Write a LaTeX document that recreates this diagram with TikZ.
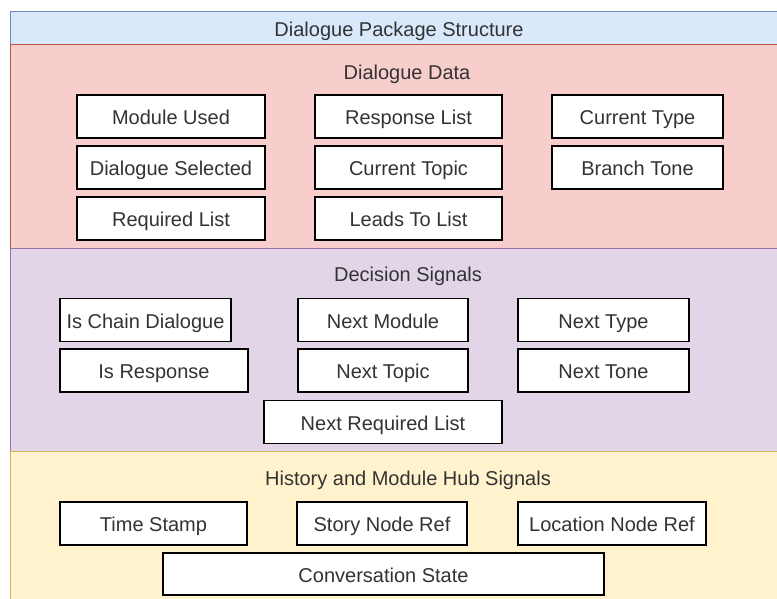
\documentclass[tikz,border=0pt]{standalone}
\usepackage{fontspec}
\setmainfont{Liberation Sans}
\definecolor{txtgray}{HTML}{333333}
\definecolor{headfill}{HTML}{DAE8FC}
\definecolor{headline}{HTML}{6C8EBF}
\definecolor{datafill}{HTML}{F8CECC}
\definecolor{dataline}{HTML}{B85450}
\definecolor{decfill}{HTML}{E1D5E7}
\definecolor{decline}{HTML}{9673A6}
\definecolor{histfill}{HTML}{FFF2CC}
\definecolor{histline}{HTML}{D6B656}

\begin{document}
\begin{tikzpicture}[x=1pt,y=-1pt,
  every node/.style={font=\fontsize{20}{24}\selectfont, text=txtgray, text height=18pt, text depth=1.6pt},
  field/.style={draw=black, line width=1.2pt, fill=white, minimum height=43pt, inner sep=0pt}]

\useasboundingbox (0,0) rectangle (777,599);

% Sections
\draw[headline, fill=headfill] (10,11) rectangle (778,44);
\draw[dataline, fill=datafill] (10,44) rectangle (778,248);
\draw[decline, fill=decfill] (10,248) rectangle (778,451);
\draw[histline, fill=histfill] (10,451) rectangle (778,601);

% Titles
\node (title) at (399,28) {Dialogue Package Structure};
\node (datatitle) at (407,71) {Dialogue Data};
\node (dectitle) at (408,273) {Decision Signals};
\node (histtitle) at (408,477) {History and Module Hub Signals};

% Dialogue data
\node[field, minimum width=188pt] (module) at (171,116.5) {Module Used};
\node[field, minimum width=187pt] (resplist) at (408.5,116.5) {Response List};
\node[field, minimum width=171pt] (curtype) at (637.5,116.5) {Current Type};
\node[field, minimum width=188pt] (selected) at (171,167.5) {Dialogue Selected};
\node[field, minimum width=187pt] (curtopic) at (408.5,167.5) {Current Topic};
\node[field, minimum width=171pt] (tone) at (637.5,167.5) {Branch Tone};
\node[field, minimum width=188pt] (reqlist) at (171,218.5) {Required List};
\node[field, minimum width=187pt] (leads) at (408.5,218.5) {Leads To List};

% Decision signals
\node[field, minimum width=171pt] (ischain) at (145.5,320) {Is Chain Dialogue};
\node[field, minimum width=170pt] (nextmod) at (383,320) {Next Module};
\node[field, minimum width=171pt] (nexttype) at (603.5,320) {Next Type};
\node[field, minimum width=188pt] (isresp) at (154,370.5) {Is Response};
\node[field, minimum width=170pt] (nexttopic) at (383,370.5) {Next Topic};
\node[field, minimum width=171pt] (nexttone) at (603.5,370.5) {Next Tone};
\node[field, minimum width=238pt] (nextreq) at (383,422) {Next Required List};

% History and module hub
\node[field, minimum width=187pt] (stamp) at (153.5,523.5) {Time Stamp};
\node[field, minimum width=170pt] (storyref) at (382,523.5) {Story Node Ref};
\node[field, minimum width=188pt] (locref) at (612,523.5) {Location Node Ref};
\node[field, minimum width=441pt, minimum height=42pt] (convstate) at (383.5,574) {Conversation State};

\end{tikzpicture}
\end{document}
